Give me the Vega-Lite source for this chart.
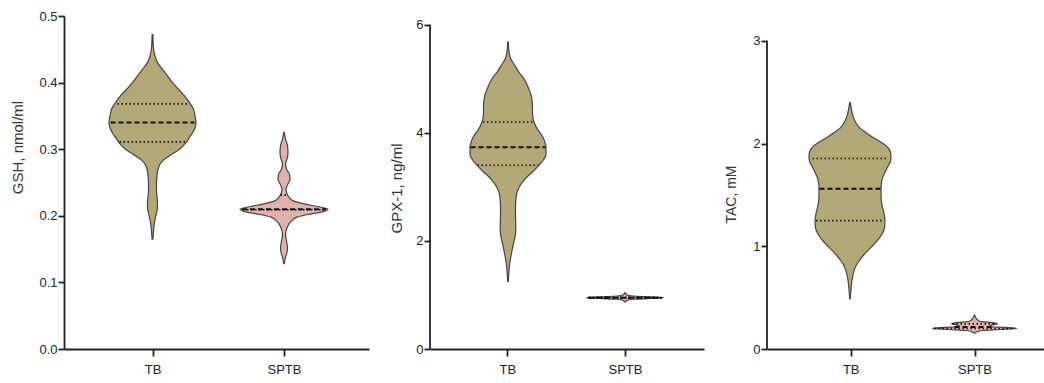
{
  "$schema": "https://vega.github.io/schema/vega-lite/v6.json",
  "padding": {"left": 10, "top": 10, "right": 0, "bottom": 0},
  "background": "white",
  "spacing": 20,
  "config": {
    "view": {"stroke": null},
    "font": "Liberation Sans",
    "axis": {
      "grid": false,
      "domainColor": "#222222",
      "domainWidth": 1.8,
      "tickColor": "#222222",
      "tickWidth": 1.8,
      "labelFont": "Liberation Sans",
      "labelFontSize": 13,
      "labelColor": "#222222",
      "titleFont": "Liberation Sans",
      "titleFontSize": 15,
      "titleFontWeight": "normal",
      "titleColor": "#333333"
    },
    "axisY": {"tickSize": 6, "labelPadding": 1},
    "axisX": {"tickSize": 7, "labelPadding": 7}
  },
  "datasets": {
    "gsh": [
      {"grp": "TB", "v": 0.472, "lo": 88.1, "hi": 88.9},
      {"grp": "TB", "v": 0.455, "lo": 87.7, "hi": 89.3},
      {"grp": "TB", "v": 0.44, "lo": 86, "hi": 91},
      {"grp": "TB", "v": 0.43, "lo": 83.5, "hi": 93.5},
      {"grp": "TB", "v": 0.42, "lo": 78.5, "hi": 98.5},
      {"grp": "TB", "v": 0.41, "lo": 73.5, "hi": 103.5},
      {"grp": "TB", "v": 0.40, "lo": 68.5, "hi": 108.5},
      {"grp": "TB", "v": 0.39, "lo": 62.5, "hi": 114.5},
      {"grp": "TB", "v": 0.38, "lo": 56.5, "hi": 120.5},
      {"grp": "TB", "v": 0.37, "lo": 51.5, "hi": 125.5},
      {"grp": "TB", "v": 0.36, "lo": 47.5, "hi": 129.5},
      {"grp": "TB", "v": 0.35, "lo": 46, "hi": 131},
      {"grp": "TB", "v": 0.34, "lo": 45, "hi": 132},
      {"grp": "TB", "v": 0.33, "lo": 46.5, "hi": 130.5},
      {"grp": "TB", "v": 0.32, "lo": 50.5, "hi": 126.5},
      {"grp": "TB", "v": 0.31, "lo": 55, "hi": 122},
      {"grp": "TB", "v": 0.30, "lo": 61.5, "hi": 115.5},
      {"grp": "TB", "v": 0.295, "lo": 66.5, "hi": 110.5},
      {"grp": "TB", "v": 0.29, "lo": 71.5, "hi": 105.5},
      {"grp": "TB", "v": 0.285, "lo": 76.5, "hi": 100.5},
      {"grp": "TB", "v": 0.28, "lo": 80, "hi": 97},
      {"grp": "TB", "v": 0.27, "lo": 83, "hi": 94},
      {"grp": "TB", "v": 0.26, "lo": 84, "hi": 93},
      {"grp": "TB", "v": 0.25, "lo": 84.5, "hi": 92.5},
      {"grp": "TB", "v": 0.24, "lo": 84.5, "hi": 92.5},
      {"grp": "TB", "v": 0.23, "lo": 84.2, "hi": 92.8},
      {"grp": "TB", "v": 0.22, "lo": 83.5, "hi": 93.5},
      {"grp": "TB", "v": 0.21, "lo": 83.7, "hi": 93.3},
      {"grp": "TB", "v": 0.20, "lo": 85.2, "hi": 91.8},
      {"grp": "TB", "v": 0.19, "lo": 86.5, "hi": 90.5},
      {"grp": "TB", "v": 0.18, "lo": 87.3, "hi": 89.7},
      {"grp": "TB", "v": 0.165, "lo": 88.1, "hi": 88.9},
      {"grp": "SPTB", "v": 0.325, "lo": 219.7, "hi": 220.3},
      {"grp": "SPTB", "v": 0.315, "lo": 218.5, "hi": 221.5},
      {"grp": "SPTB", "v": 0.305, "lo": 216.5, "hi": 223.5},
      {"grp": "SPTB", "v": 0.295, "lo": 216, "hi": 224},
      {"grp": "SPTB", "v": 0.285, "lo": 217, "hi": 223},
      {"grp": "SPTB", "v": 0.278, "lo": 218.5, "hi": 221.5},
      {"grp": "SPTB", "v": 0.27, "lo": 217.5, "hi": 222.5},
      {"grp": "SPTB", "v": 0.262, "lo": 214.5, "hi": 225.5},
      {"grp": "SPTB", "v": 0.255, "lo": 214, "hi": 226},
      {"grp": "SPTB", "v": 0.248, "lo": 216, "hi": 224},
      {"grp": "SPTB", "v": 0.24, "lo": 218, "hi": 222},
      {"grp": "SPTB", "v": 0.235, "lo": 217.5, "hi": 222.5},
      {"grp": "SPTB", "v": 0.228, "lo": 215, "hi": 225},
      {"grp": "SPTB", "v": 0.222, "lo": 210, "hi": 230},
      {"grp": "SPTB", "v": 0.218, "lo": 200, "hi": 240},
      {"grp": "SPTB", "v": 0.214, "lo": 187, "hi": 253},
      {"grp": "SPTB", "v": 0.21, "lo": 176, "hi": 264},
      {"grp": "SPTB", "v": 0.206, "lo": 182, "hi": 258},
      {"grp": "SPTB", "v": 0.202, "lo": 196, "hi": 244},
      {"grp": "SPTB", "v": 0.198, "lo": 207, "hi": 233},
      {"grp": "SPTB", "v": 0.193, "lo": 212, "hi": 228},
      {"grp": "SPTB", "v": 0.188, "lo": 215, "hi": 225},
      {"grp": "SPTB", "v": 0.18, "lo": 217.5, "hi": 222.5},
      {"grp": "SPTB", "v": 0.172, "lo": 218.5, "hi": 221.5},
      {"grp": "SPTB", "v": 0.162, "lo": 217.5, "hi": 222.5},
      {"grp": "SPTB", "v": 0.152, "lo": 216.5, "hi": 223.5},
      {"grp": "SPTB", "v": 0.145, "lo": 217, "hi": 223},
      {"grp": "SPTB", "v": 0.138, "lo": 218.5, "hi": 221.5},
      {"grp": "SPTB", "v": 0.128, "lo": 219.7, "hi": 220.3}
    ],
    "gsh_lines": [
      {"grp": "TB", "stat": "quartile", "v": 0.368, "lo": 53.5, "hi": 123.5},
      {"grp": "TB", "stat": "median", "v": 0.34, "lo": 46.5, "hi": 130.5},
      {"grp": "TB", "stat": "quartile", "v": 0.311, "lo": 55.5, "hi": 121.5},
      {"grp": "SPTB", "stat": "quartile", "v": 0.231, "lo": 216.5, "hi": 223.5},
      {"grp": "SPTB", "stat": "median", "v": 0.21, "lo": 178, "hi": 262},
      {"grp": "SPTB", "stat": "quartile", "v": 0.209, "lo": 179, "hi": 261}
    ],
    "gpx": [
      {"grp": "TB", "v": 5.68, "lo": 77.7, "hi": 78.3},
      {"grp": "TB", "v": 5.5, "lo": 77, "hi": 79},
      {"grp": "TB", "v": 5.37, "lo": 75.3, "hi": 80.7},
      {"grp": "TB", "v": 5.25, "lo": 71.3, "hi": 84.7},
      {"grp": "TB", "v": 5.12, "lo": 67, "hi": 89},
      {"grp": "TB", "v": 5.0, "lo": 62, "hi": 94},
      {"grp": "TB", "v": 4.85, "lo": 58, "hi": 98},
      {"grp": "TB", "v": 4.7, "lo": 55, "hi": 101},
      {"grp": "TB", "v": 4.5, "lo": 53.5, "hi": 102.5},
      {"grp": "TB", "v": 4.35, "lo": 53.5, "hi": 102.5},
      {"grp": "TB", "v": 4.2, "lo": 52, "hi": 104},
      {"grp": "TB", "v": 4.05, "lo": 48, "hi": 108},
      {"grp": "TB", "v": 3.95, "lo": 44, "hi": 112},
      {"grp": "TB", "v": 3.85, "lo": 41.5, "hi": 114.5},
      {"grp": "TB", "v": 3.73, "lo": 40, "hi": 116},
      {"grp": "TB", "v": 3.6, "lo": 40, "hi": 116},
      {"grp": "TB", "v": 3.5, "lo": 42.5, "hi": 113.5},
      {"grp": "TB", "v": 3.4, "lo": 47, "hi": 109},
      {"grp": "TB", "v": 3.3, "lo": 52, "hi": 104},
      {"grp": "TB", "v": 3.2, "lo": 58, "hi": 98},
      {"grp": "TB", "v": 3.1, "lo": 63, "hi": 93},
      {"grp": "TB", "v": 2.97, "lo": 67.5, "hi": 88.5},
      {"grp": "TB", "v": 2.8, "lo": 70, "hi": 86},
      {"grp": "TB", "v": 2.6, "lo": 70.5, "hi": 85.5},
      {"grp": "TB", "v": 2.45, "lo": 70.5, "hi": 85.5},
      {"grp": "TB", "v": 2.3, "lo": 70.2, "hi": 85.8},
      {"grp": "TB", "v": 2.17, "lo": 70.3, "hi": 85.7},
      {"grp": "TB", "v": 2.05, "lo": 71.2, "hi": 84.8},
      {"grp": "TB", "v": 1.93, "lo": 72.7, "hi": 83.3},
      {"grp": "TB", "v": 1.8, "lo": 74.2, "hi": 81.8},
      {"grp": "TB", "v": 1.62, "lo": 76, "hi": 80},
      {"grp": "TB", "v": 1.45, "lo": 77, "hi": 79},
      {"grp": "TB", "v": 1.25, "lo": 77.7, "hi": 78.3},
      {"grp": "SPTB", "v": 1.04, "lo": 194.7, "hi": 195.3},
      {"grp": "SPTB", "v": 1.0, "lo": 193, "hi": 197},
      {"grp": "SPTB", "v": 0.98, "lo": 187, "hi": 203},
      {"grp": "SPTB", "v": 0.965, "lo": 170, "hi": 220},
      {"grp": "SPTB", "v": 0.95, "lo": 156.5, "hi": 233.5},
      {"grp": "SPTB", "v": 0.935, "lo": 170, "hi": 220},
      {"grp": "SPTB", "v": 0.92, "lo": 187, "hi": 203},
      {"grp": "SPTB", "v": 0.90, "lo": 193, "hi": 197},
      {"grp": "SPTB", "v": 0.87, "lo": 194.7, "hi": 195.3}
    ],
    "gpx_lines": [
      {"grp": "TB", "stat": "quartile", "v": 4.2, "lo": 53, "hi": 103},
      {"grp": "TB", "stat": "median", "v": 3.73, "lo": 40.5, "hi": 115.5},
      {"grp": "TB", "stat": "quartile", "v": 3.4, "lo": 47.5, "hi": 108.5},
      {"grp": "SPTB", "stat": "quartile", "v": 0.955, "lo": 159, "hi": 231},
      {"grp": "SPTB", "stat": "median", "v": 0.95, "lo": 158, "hi": 232},
      {"grp": "SPTB", "stat": "quartile", "v": 0.945, "lo": 159, "hi": 231}
    ],
    "tac": [
      {"grp": "TB", "v": 2.40, "lo": 82.7, "hi": 83.3},
      {"grp": "TB", "v": 2.33, "lo": 81.5, "hi": 84.5},
      {"grp": "TB", "v": 2.27, "lo": 80, "hi": 86},
      {"grp": "TB", "v": 2.2, "lo": 77, "hi": 89},
      {"grp": "TB", "v": 2.15, "lo": 73, "hi": 93},
      {"grp": "TB", "v": 2.1, "lo": 66, "hi": 100},
      {"grp": "TB", "v": 2.06, "lo": 60, "hi": 106},
      {"grp": "TB", "v": 2.02, "lo": 53, "hi": 113},
      {"grp": "TB", "v": 1.98, "lo": 47, "hi": 119},
      {"grp": "TB", "v": 1.93, "lo": 43, "hi": 123},
      {"grp": "TB", "v": 1.88, "lo": 42, "hi": 124},
      {"grp": "TB", "v": 1.83, "lo": 42.5, "hi": 123.5},
      {"grp": "TB", "v": 1.78, "lo": 45, "hi": 121},
      {"grp": "TB", "v": 1.72, "lo": 48, "hi": 118},
      {"grp": "TB", "v": 1.65, "lo": 51, "hi": 115},
      {"grp": "TB", "v": 1.56, "lo": 52, "hi": 114},
      {"grp": "TB", "v": 1.48, "lo": 52, "hi": 114},
      {"grp": "TB", "v": 1.40, "lo": 51, "hi": 115},
      {"grp": "TB", "v": 1.32, "lo": 49, "hi": 117},
      {"grp": "TB", "v": 1.25, "lo": 48, "hi": 118},
      {"grp": "TB", "v": 1.18, "lo": 48.5, "hi": 117.5},
      {"grp": "TB", "v": 1.12, "lo": 51, "hi": 115},
      {"grp": "TB", "v": 1.07, "lo": 54.5, "hi": 111.5},
      {"grp": "TB", "v": 1.02, "lo": 59, "hi": 107},
      {"grp": "TB", "v": 0.97, "lo": 64, "hi": 102},
      {"grp": "TB", "v": 0.92, "lo": 69, "hi": 97},
      {"grp": "TB", "v": 0.87, "lo": 73, "hi": 93},
      {"grp": "TB", "v": 0.82, "lo": 76.5, "hi": 89.5},
      {"grp": "TB", "v": 0.76, "lo": 79, "hi": 87},
      {"grp": "TB", "v": 0.70, "lo": 80.5, "hi": 85.5},
      {"grp": "TB", "v": 0.6, "lo": 81.8, "hi": 84.2},
      {"grp": "TB", "v": 0.49, "lo": 82.7, "hi": 83.3},
      {"grp": "SPTB", "v": 0.33, "lo": 207.2, "hi": 207.8},
      {"grp": "SPTB", "v": 0.3, "lo": 206, "hi": 209},
      {"grp": "SPTB", "v": 0.27, "lo": 202.5, "hi": 212.5},
      {"grp": "SPTB", "v": 0.255, "lo": 187.5, "hi": 227.5},
      {"grp": "SPTB", "v": 0.245, "lo": 184.5, "hi": 230.5},
      {"grp": "SPTB", "v": 0.235, "lo": 189.5, "hi": 225.5},
      {"grp": "SPTB", "v": 0.22, "lo": 192.5, "hi": 222.5},
      {"grp": "SPTB", "v": 0.21, "lo": 177.5, "hi": 237.5},
      {"grp": "SPTB", "v": 0.20, "lo": 165.5, "hi": 249.5},
      {"grp": "SPTB", "v": 0.19, "lo": 182.5, "hi": 232.5},
      {"grp": "SPTB", "v": 0.18, "lo": 199.5, "hi": 215.5},
      {"grp": "SPTB", "v": 0.165, "lo": 205.5, "hi": 209.5},
      {"grp": "SPTB", "v": 0.155, "lo": 207.2, "hi": 207.8}
    ],
    "tac_lines": [
      {"grp": "TB", "stat": "quartile", "v": 1.855, "lo": 45.5, "hi": 120.5},
      {"grp": "TB", "stat": "median", "v": 1.56, "lo": 52.5, "hi": 113.5},
      {"grp": "TB", "stat": "quartile", "v": 1.25, "lo": 49, "hi": 117},
      {"grp": "SPTB", "stat": "quartile", "v": 0.245, "lo": 185.5, "hi": 229.5},
      {"grp": "SPTB", "stat": "median", "v": 0.215, "lo": 187.5, "hi": 227.5},
      {"grp": "SPTB", "stat": "quartile", "v": 0.2, "lo": 167.5, "hi": 247.5}
    ]
  },
  "hconcat": [
    {
      "width": 305,
      "height": 333,
      "layer": [
        {
          "data": {"name": "gsh"},
          "mark": {"type": "area", "orient": "horizontal", "interpolate": "monotone", "stroke": "#444444", "strokeWidth": 1.2, "opacity": 1},
          "encoding": {
            "y": {"field": "v", "type": "quantitative", "scale": {"domain": [0, 0.5], "nice": false}, "axis": {"values": [0, 0.1, 0.2, 0.3, 0.4, 0.5], "format": ".1f", "title": "GSH,  nmol/ml", "titlePadding": 13, "titleY": 131}},
            "x": {"field": "lo", "type": "quantitative", "scale": {"domain": [0, 305], "nice": false}, "axis": {"values": [88.5, 220], "labelExpr": "datum.value < 150 ? 'TB' : 'SPTB'", "title": null}},
            "x2": {"field": "hi"},
            "color": {"field": "grp", "type": "nominal", "scale": {"domain": ["TB", "SPTB"], "range": ["#b3a877", "#e0b2ae"]}, "legend": null}
          }
        },
        {
          "data": {"name": "gsh_lines"},
          "transform": [{"filter": "datum.stat === 'quartile'"}],
          "mark": {"type": "rule", "color": "#111111", "strokeWidth": 1.6, "strokeDash": [1.5, 2.5]},
          "encoding": {"y": {"field": "v", "type": "quantitative"}, "x": {"field": "lo", "type": "quantitative"}, "x2": {"field": "hi"}}
        },
        {
          "data": {"name": "gsh_lines"},
          "transform": [{"filter": "datum.stat === 'median'"}],
          "mark": {"type": "rule", "color": "#111111", "strokeWidth": 2, "strokeDash": [5, 3]},
          "encoding": {"y": {"field": "v", "type": "quantitative"}, "x": {"field": "lo", "type": "quantitative"}, "x2": {"field": "hi"}}
        }
      ]
    },
    {
      "width": 274,
      "height": 333,
      "layer": [
        {
          "data": {"name": "gpx"},
          "mark": {"type": "area", "orient": "horizontal", "interpolate": "monotone", "stroke": "#444444", "strokeWidth": 1.2, "opacity": 1},
          "encoding": {
            "y": {"field": "v", "type": "quantitative", "scale": {"domain": [0, 6.16], "nice": false}, "axis": {"values": [0, 2, 4, 6], "format": "d", "domain": false, "title": "GPX-1, ng/ml", "titlePadding": 11, "titleY": 172}},
            "x": {"field": "lo", "type": "quantitative", "scale": {"domain": [0, 274], "nice": false}, "axis": {"values": [77.3, 195], "labelExpr": "datum.value < 130 ? 'TB' : 'SPTB'", "title": null}},
            "x2": {"field": "hi"},
            "color": {"field": "grp", "type": "nominal", "scale": {"domain": ["TB", "SPTB"], "range": ["#b3a877", "#e0b2ae"]}, "legend": null}
          }
        },
        {
          "data": {"name": "gpx_lines"},
          "transform": [{"filter": "datum.stat === 'quartile'"}],
          "mark": {"type": "rule", "color": "#111111", "strokeWidth": 1.6, "strokeDash": [1.5, 2.5]},
          "encoding": {"y": {"field": "v", "type": "quantitative"}, "x": {"field": "lo", "type": "quantitative"}, "x2": {"field": "hi"}}
        },
        {
          "data": {"name": "gpx_lines"},
          "transform": [{"filter": "datum.stat === 'median'"}],
          "mark": {"type": "rule", "color": "#111111", "strokeWidth": 2, "strokeDash": [5, 3]},
          "encoding": {"y": {"field": "v", "type": "quantitative"}, "x": {"field": "lo", "type": "quantitative"}, "x2": {"field": "hi"}}
        },
        {
          "data": {"values": [{"from": 0, "to": 6}]},
          "mark": {"type": "rule", "color": "#222222", "strokeWidth": 1.8},
          "encoding": {"x": {"datum": 0, "type": "quantitative"}, "y": {"field": "from", "type": "quantitative"}, "y2": {"field": "to"}}
        }
      ]
    },
    {
      "width": 281,
      "height": 333,
      "layer": [
        {
          "data": {"name": "tac"},
          "mark": {"type": "area", "orient": "horizontal", "interpolate": "monotone", "stroke": "#444444", "strokeWidth": 1.2, "opacity": 1},
          "encoding": {
            "y": {"field": "v", "type": "quantitative", "scale": {"domain": [0, 3.242], "nice": false}, "axis": {"values": [0, 1, 2, 3], "format": "d", "domain": false, "title": "TAC, mM", "titleFontSize": 14, "titlePadding": 14, "titleY": 178}},
            "x": {"field": "lo", "type": "quantitative", "scale": {"domain": [0, 281], "nice": false}, "axis": {"values": [83.7, 207.5], "labelExpr": "datum.value < 140 ? 'TB' : 'SPTB'", "title": null}},
            "x2": {"field": "hi"},
            "color": {"field": "grp", "type": "nominal", "scale": {"domain": ["TB", "SPTB"], "range": ["#b3a877", "#e0b2ae"]}, "legend": null}
          }
        },
        {
          "data": {"name": "tac_lines"},
          "transform": [{"filter": "datum.stat === 'quartile'"}],
          "mark": {"type": "rule", "color": "#111111", "strokeWidth": 1.6, "strokeDash": [1.5, 2.5]},
          "encoding": {"y": {"field": "v", "type": "quantitative"}, "x": {"field": "lo", "type": "quantitative"}, "x2": {"field": "hi"}}
        },
        {
          "data": {"name": "tac_lines"},
          "transform": [{"filter": "datum.stat === 'median'"}],
          "mark": {"type": "rule", "color": "#111111", "strokeWidth": 2, "strokeDash": [5, 3]},
          "encoding": {"y": {"field": "v", "type": "quantitative"}, "x": {"field": "lo", "type": "quantitative"}, "x2": {"field": "hi"}}
        },
        {
          "data": {"values": [{"from": 0, "to": 3}]},
          "mark": {"type": "rule", "color": "#222222", "strokeWidth": 1.8},
          "encoding": {"x": {"datum": 0, "type": "quantitative"}, "y": {"field": "from", "type": "quantitative"}, "y2": {"field": "to"}}
        }
      ]
    }
  ]
}
